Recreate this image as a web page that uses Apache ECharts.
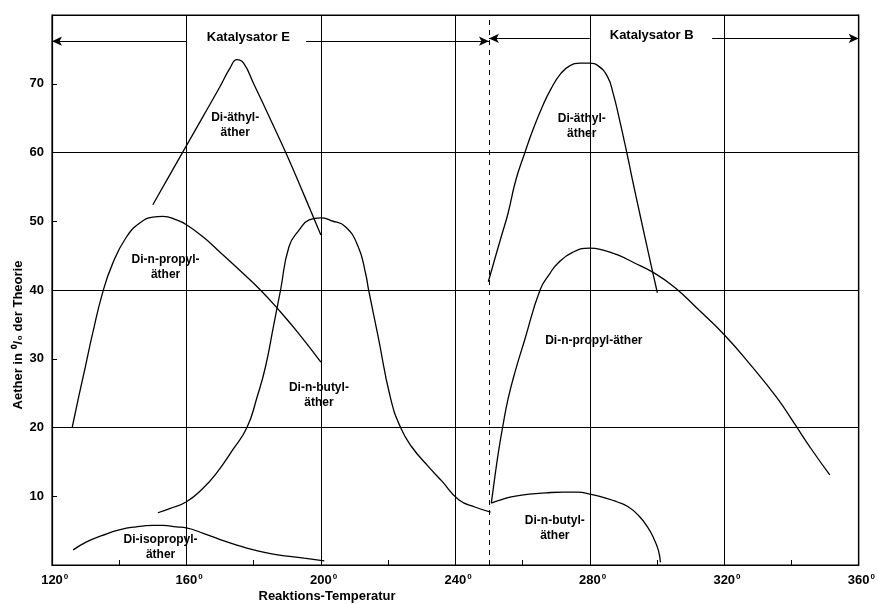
<!DOCTYPE html>
<html>
<head>
<meta charset="utf-8">
<script src="https://cdn.jsdelivr.net/npm/echarts@6/dist/echarts.min.js"></script>
<style>
    html, body { margin: 0; padding: 0; background: #fff; }
    #chart { width: 878px; height: 604px; }
</style>
</head>
<body>
<div id="chart"></div>
<script>
    // Achsen
    const xTickLabels = [120, 160, 200, 240, 280, 320, 360];
    const yTickLabels = [10, 20, 30, 40, 50, 60, 70];

    // Kurven, Katalysator E  [Temperatur, Aether %]
    const diaethylE = [[150, 52.4], [155, 56.7], [160, 61], [165, 65.3], [170, 69.6], [173, 72.3], [175, 73.5], [177, 73], [180, 70], [185, 64.8], [190, 59.5], [195, 53.8], [200, 48]];
    const dipropylE = [[126, 20], [128, 24.6], [130, 29], [132, 33.5], [135, 39.5], [138, 43.8], [142, 47.6], [146, 49.7], [150, 50.6], [153, 50.7], [157, 50.2], [160, 49.5], [165, 47.7], [170, 45.5], [176, 42.8], [182, 40], [188, 36.8], [193, 33.9], [200, 29.5]];
    const dibutylE = [[151.5, 7.6], [155, 8.2], [160, 9.2], [165, 11.2], [169, 13.4], [173.7, 16.7], [178, 20], [181, 24.4], [183.5, 28.8], [186, 35], [188, 40], [190.5, 46.3], [193.5, 48.7], [196.5, 50.2], [200, 50.5], [203, 50.1], [207.3, 49.2], [211.1, 46.3], [213.3, 42.4], [214.2, 40], [217, 33.3], [220.7, 24.3], [223.7, 20], [227, 17.2], [232, 14.3], [236, 12.2], [241, 9.5], [246, 8.4], [250.5, 7.7]];
    const diisopropylE = [[126.3, 2.2], [130, 3.3], [135, 4.3], [140, 5.1], [145, 5.55], [150, 5.75], [153, 5.75], [157, 5.55], [160, 5.4], [165, 4.6], [170, 3.7], [175, 2.9], [180, 2.2], [185, 1.65], [190, 1.3], [195, 1], [201, 0.6]];

    // Kurven, Katalysator B
    const diaethylB = [[249.8, 41.2], [251.9, 44.8], [253.8, 48], [255.7, 51.2], [258, 56], [260.7, 60], [263, 63.2], [266, 66.8], [268.5, 69.3], [271.4, 71.5], [274, 72.6], [277, 73], [280, 73], [282.5, 72.6], [285.3, 71], [287, 68.5], [288.5, 65.5], [291, 60], [292.7, 56], [295, 50.8], [298.7, 42.6], [300.1, 39.6]];
    const dipropylB = [[250.7, 9], [251.8, 13], [253, 17], [254.2, 20.4], [255.7, 24.2], [258, 28.5], [260.6, 32.7], [265.2, 40], [268, 42.3], [270.5, 43.9], [275, 45.5], [280, 46.1], [284, 45.8], [288.3, 45.1], [293, 44], [298.7, 42.6], [305.2, 40.4], [312, 37.3], [320, 33.5], [328, 29], [335.7, 24.3], [340.7, 20.7], [346, 16.8], [351.4, 13.1]];
    const dibutylB = [[250.7, 9], [253, 9.4], [256.6, 9.9], [262, 10.3], [267, 10.5], [272, 10.6], [276.4, 10.6], [280, 10.3], [285, 9.7], [288, 9.2], [291.3, 8.5], [294.5, 7.2], [297.2, 5.5], [299, 3.9], [300.1, 2.6], [300.7, 1.5], [301, 0.4]];

    // Beschriftung der Kurven
    const curveNames = ['Di-äthyl-\näther', 'Di-n-propyl-\näther', 'Di-n-butyl-\näther', 'Di-isopropyl-\näther', 'Di-äthyl-\näther', 'Di-n-propyl-äther', 'Di-n-butyl-\näther'];
    const curveLabelX = [174.5, 153.8, 199.4, 152.3, 277.6, 281.2, 269.6];
    const curveLabelY = [64, 43.3, 24.7, 2.6, 63.9, 32.7, 5.4];

    // Katalysator-Bereiche
    const catalystNames = ['Katalysator E', 'Katalysator B'];
    const catalystRanges = [[120, 250], [250, 360]];
    const catalystGaps = [[160, 195.6], [280, 316.4]];
    const catalystLevel = [76.2, 76.6];
    const catalystLabelX = [178.4, 298.4];
    const catalystBorder = 250;

    const ink = '#000';
    const font = 'Liberation Sans';

    let chart = echarts.init(document.getElementById('chart'));

    function curve(data) {
        return {
            type: 'line',
            data: data,
            smooth: 0.5,
            symbol: 'none',
            lineStyle: { color: ink, width: 1.3 },
            silent: true
        };
    }

    // Pfeile fuer die Katalysator-Bereiche
    let arrowLines = [];
    catalystRanges.forEach(function (r, i) {
        let y = catalystLevel[i];
        arrowLines.push([
            { coord: [r[0], y], symbol: 'arrow', symbolSize: [7, 10] },
            { coord: [catalystGaps[i][0], y], symbol: 'none' }
        ]);
        arrowLines.push([
            { coord: [catalystGaps[i][1], y], symbol: 'none' },
            { coord: [r[1], y], symbol: 'arrow', symbolSize: [7, 10] }
        ]);
    });
    arrowLines.push({ xAxis: catalystBorder, symbol: 'none', lineStyle: { type: [5, 5], width: 1 } });

    let labelData = curveNames.map(function (t, i) {
        return { value: [curveLabelX[i], curveLabelY[i]], label: { formatter: t } };
    });
    catalystNames.forEach(function (t, i) {
        labelData.push({ value: [catalystLabelX[i], catalystLevel[i] + 0.5], label: { formatter: t, fontSize: 13 } });
    });

    chart.setOption({
        animation: false,
        textStyle: { fontFamily: font },
        grid: {
            left: 52, right: 16, top: 15, bottom: 39,
            show: true,
            borderColor: ink,
            borderWidth: 1.2
        },
        xAxis: {
            type: 'value',
            min: 120,
            max: 360,
            interval: 40,
            axisLine: { show: true, lineStyle: { color: ink, width: 1.2 } },
            axisTick: { show: true, inside: true, length: 5, lineStyle: { color: ink } },
            minorTick: { show: true, splitNumber: 2, length: 5, lineStyle: { color: ink } },
            splitLine: { show: true, lineStyle: { color: ink, width: 1 } },
            axisLabel: {
                margin: 8,
                formatter: function (v) {
                    return xTickLabels.indexOf(v) >= 0 ? '{p|0}{n|' + v + '}{d|0}' : '';
                },
                rich: {
                    n: { fontSize: 13, fontWeight: 'bold', color: ink, fontFamily: font },
                    d: { fontSize: 8, fontWeight: 'bold', color: ink, verticalAlign: 'top', padding: [0, 0, 6, 1], fontFamily: font },
                    p: { fontSize: 8, color: 'transparent', padding: [0, 1, 6, 0], fontFamily: font }
                }
            }
        },
        yAxis: [
            {
                type: 'value',
                min: 0,
                max: 80,
                interval: 10,
                position: 'left',
                axisLine: { show: true, lineStyle: { color: ink, width: 1.2 } },
                axisTick: { show: true, inside: true, length: 5, lineStyle: { color: ink } },
                splitLine: { show: false },
                axisLabel: {
                    margin: 8,
                    color: ink,
                    fontSize: 13,
                    fontWeight: 'bold',
                    formatter: function (v) {
                        return yTickLabels.indexOf(v) >= 0 ? String(v) : '';
                    }
                }
            },
            {
                type: 'value',
                min: 0,
                max: 80,
                interval: 20,
                position: 'right',
                axisLine: { show: true, lineStyle: { color: ink, width: 1.2 } },
                axisTick: { show: false },
                axisLabel: { show: false },
                splitLine: { show: true, lineStyle: { color: ink, width: 1 } }
            }
        ],
        graphic: [
            {
                type: 'text',
                x: 18,
                y: 335,
                rotation: Math.PI / 2,
                style: {
                    text: 'Aether in ⁰/₀ der Theorie',
                    fill: ink,
                    font: 'bold 13px "' + font + '"',
                    align: 'center',
                    verticalAlign: 'middle'
                }
            },
            {
                type: 'text',
                x: 327,
                y: 596,
                style: {
                    text: 'Reaktions-Temperatur',
                    fill: ink,
                    font: 'bold 13px "' + font + '"',
                    align: 'center',
                    verticalAlign: 'middle'
                }
            }
        ],
        series: [
            curve(diaethylE),
            curve(dipropylE),
            curve(dibutylE),
            curve(diisopropylE),
            curve(diaethylB),
            curve(dipropylB),
            curve(dibutylB),
            {
                type: 'scatter',
                data: labelData,
                symbolSize: 0,
                silent: true,
                label: {
                    show: true,
                    position: 'inside',
                    align: 'center',
                    verticalAlign: 'middle',
                    color: ink,
                    textBorderWidth: 0,
                    opacity: 1,
                    fontSize: 12,
                    fontWeight: 'bold',
                    lineHeight: 15,
                    fontFamily: font
                },
                markLine: {
                    silent: true,
                    symbol: 'none',
                    label: { show: false },
                    lineStyle: { color: ink, width: 1.2, type: 'solid' },
                    data: arrowLines
                }
            }
        ]
    });
    window.onresize = chart.resize;
</script>
</body>
</html>
